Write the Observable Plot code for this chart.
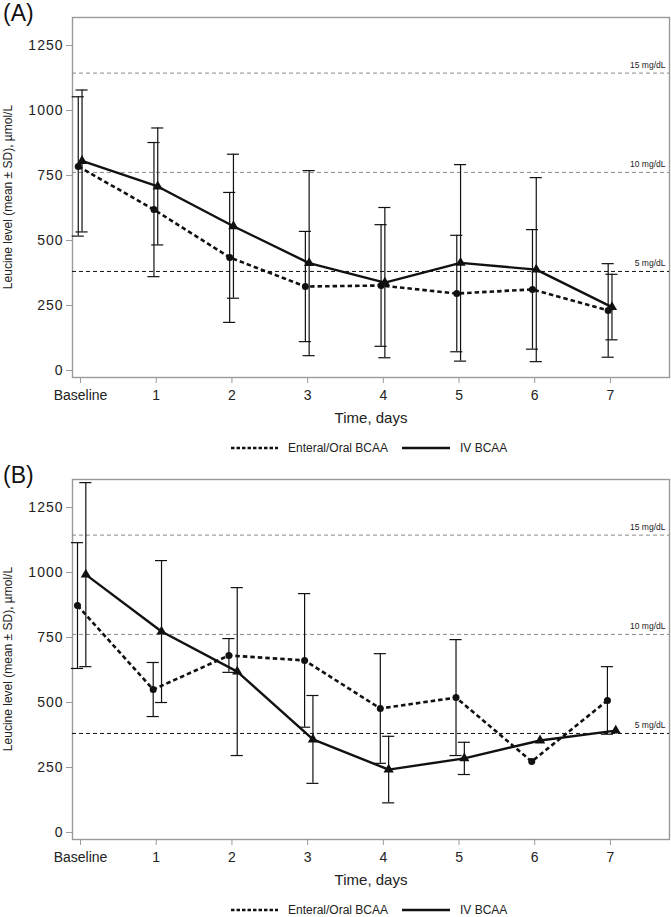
<!DOCTYPE html>
<html>
<head>
<meta charset="utf-8">
<script src="https://cdn.jsdelivr.net/npm/d3@7"></script>
<script src="https://cdn.jsdelivr.net/npm/@observablehq/plot@0.6"></script>
<style>
  html, body { margin: 0; padding: 0; background: #fff; }
  body { width: 671px; height: 917px; overflow: hidden; position: relative;
         font-family: "Liberation Sans", Arial, sans-serif; }
  .panel { position: absolute; left: 0; width: 671px; height: 462px; }
  .panel svg.plot { position: absolute; left: 0; top: 0; }
  .plabel { position: absolute; left: 3px; font-size: 23px; line-height: 1; color: #111; }
  .ylabel { position: absolute; left: 8px; top: 197px; width: 0; height: 0; }
  .ylabel span { position: absolute; left: 0; top: 0; white-space: nowrap; font-size: 12px; line-height: 1; color: #222;
                 transform: translate(-50%, -50%) rotate(-90deg); }
  .legend { position: absolute; left: 0; top: 440px; }
  [aria-label="y-axis tick label"] text { letter-spacing: 1px; }
</style>
</head>
<body>
<script>
// ---- Data ----
const days = [0, 1, 2, 3, 4, 5, 6, 7];
const dayLabels = ["Baseline", "1", "2", "3", "4", "5", "6", "7"];
const yTicks = [0, 250, 500, 750, 1000, 1250];

// Panel A
const aEnteralMean = [785, 619, 435, 323, 327, 296, 312, 231];
const aEnteralSd   = [268, 258, 250, 212, 234, 224, 230, 180];
const aIvMean      = [806, 708, 555, 413, 338, 414, 388, 244];
const aIvSd        = [273, 225, 277, 356, 289, 378, 354, 126];

// Panel B
const bEnteralMean = [873, 550, 681, 662, 477, 519, 273, 508];
const bEnteralSd   = [242, 104, 65, 257, 211, 223, null, 130];
const bIvMean      = [992, 773, 619, 358, 242, 285, 354, 392];
const bIvSd        = [354, 273, 323, 169, 128, 62, null, null];

// Reference thresholds (leucine mg/dL converted to µmol/L)
const refValues = [1144, 762, 381];
const refLabels = ["15 mg/dL", "10 mg/dL", "5 mg/dL"];
const refColors = ["#8a8a8a", "#8a8a8a", "#111"];

const seriesNames = ["Enteral/Oral BCAA", "IV BCAA"];
const yTitle = "Leucine level (mean ± SD), µmol/L";
const xTitle = "Time, days";

// ---- Drawing ----
function rows(means, sds, shift) {
  return days.map((d, i) => ({day: d, x: d + shift, m: means[i], sd: sds[i]}));
}

function errorMarks(data) {
  const withSd = data.filter(d => d.sd != null);
  const common = {stroke: "#111", strokeWidth: 1.2};
  return [
    Plot.ruleX(withSd, {x: "x", y1: d => d.m - d.sd, y2: d => d.m + d.sd, ...common}),
    Plot.ruleY(withSd, {y: d => d.m + d.sd, x1: d => d.x - 0.08, x2: d => d.x + 0.08, ...common}),
    Plot.ruleY(withSd, {y: d => d.m - d.sd, x1: d => d.x - 0.08, x2: d => d.x + 0.08, ...common})
  ];
}

function makePanel(entMean, entSd, ivMean, ivSd, entShift, ivShift) {
  const ent = rows(entMean, entSd, entShift);
  const iv = rows(ivMean, ivSd, ivShift);
  const refs = refValues.map((v, i) => ({v, label: refLabels[i], color: refColors[i]}));
  return Plot.plot({
    width: 671,
    height: 430,
    marginTop: 17,
    marginBottom: 53,
    marginLeft: 72,
    marginRight: 2,
    style: {fontFamily: "'Liberation Sans', Arial, sans-serif", fontSize: "14px", background: "white", color: "#222"},
    x: {domain: [-0.106, 7.78]},
    y: {domain: [-27, 1358]},
    marks: [
      Plot.frame({stroke: "#9a9a9a", strokeWidth: 1.4}),
      Plot.ruleY(refs, {y: "v", stroke: "color", strokeDasharray: "4,3", strokeWidth: 1}),
      Plot.text(refs, {y: "v", text: "label", frameAnchor: "right", textAnchor: "end", dx: -4, dy: -8, fontSize: 8.5, fill: "#222"}),
      ...errorMarks(ent),
      ...errorMarks(iv),
      Plot.line(ent, {x: "x", y: "m", stroke: "#111", strokeWidth: 2.6, strokeDasharray: "4.5,3", strokeLinecap: "butt", strokeLinejoin: "miter"}),
      Plot.line(iv, {x: "x", y: "m", stroke: "#111", strokeWidth: 2.4}),
      Plot.dot(ent, {x: "x", y: "m", r: 3.5, fill: "#111", symbol: "circle"}),
      Plot.dot(iv, {x: "x", y: "m", r: 3.8, fill: "#111", symbol: "triangle"}),
      Plot.axisX({ticks: days, tickFormat: d => dayLabels[days.indexOf(d)], tickSize: 6, tickPadding: 7,
                  stroke: "#9a9a9a", fill: "#222", label: null, fontSize: 14}),
      Plot.axisY({ticks: yTicks, tickFormat: d => String(d), tickSize: 6, tickPadding: 3,
                  stroke: "#9a9a9a", fill: "#222", label: null, fontSize: 14}),
      Plot.text([xTitle], {frameAnchor: "bottom", dy: 45, fontSize: 15, fill: "#222"})
    ]
  });
}

function makeLegend() {
  const ns = "http://www.w3.org/2000/svg";
  const svg = document.createElementNS(ns, "svg");
  svg.setAttribute("width", 671);
  svg.setAttribute("height", 20);
  svg.setAttribute("class", "legend");
  const cy = 8;
  const items = [
    {x1: 231, x2: 278, tx: 288, dash: "3.5,2", name: seriesNames[0]},
    {x1: 402, x2: 450, tx: 460, dash: null, name: seriesNames[1]}
  ];
  for (const it of items) {
    const l = document.createElementNS(ns, "line");
    l.setAttribute("x1", it.x1); l.setAttribute("x2", it.x2);
    l.setAttribute("y1", cy); l.setAttribute("y2", cy);
    l.setAttribute("stroke", "#111"); l.setAttribute("stroke-width", 2.6);
    if (it.dash) l.setAttribute("stroke-dasharray", it.dash);
    svg.appendChild(l);
    const t = document.createElementNS(ns, "text");
    t.setAttribute("x", it.tx); t.setAttribute("y", cy + 4.3);
    t.setAttribute("font-size", 12);
    t.setAttribute("font-family", "'Liberation Sans', Arial, sans-serif");
    t.setAttribute("fill", "#222");
    t.textContent = it.name;
    svg.appendChild(t);
  }
  return svg;
}

const panels = [
  {label: "(A)", top: 0, args: [aEnteralMean, aEnteralSd, aIvMean, aIvSd, -0.03, 0.02]},
  {label: "(B)", top: 462, args: [bEnteralMean, bEnteralSd, bIvMean, bIvSd, -0.04, 0.07]}
];

for (const p of panels) {
  const div = document.createElement("div");
  div.className = "panel";
  div.style.top = p.top + "px";
  div.appendChild(makePanel(...p.args));
  const lab = document.createElement("div");
  lab.className = "plabel";
  lab.style.top = "2px";
  lab.textContent = p.label;
  div.appendChild(lab);
  const yl = document.createElement("div");
  yl.className = "ylabel";
  const span = document.createElement("span");
  span.textContent = yTitle;
  yl.appendChild(span);
  div.appendChild(yl);
  div.appendChild(makeLegend());
  document.body.appendChild(div);
}
</script>
</body>
</html>
